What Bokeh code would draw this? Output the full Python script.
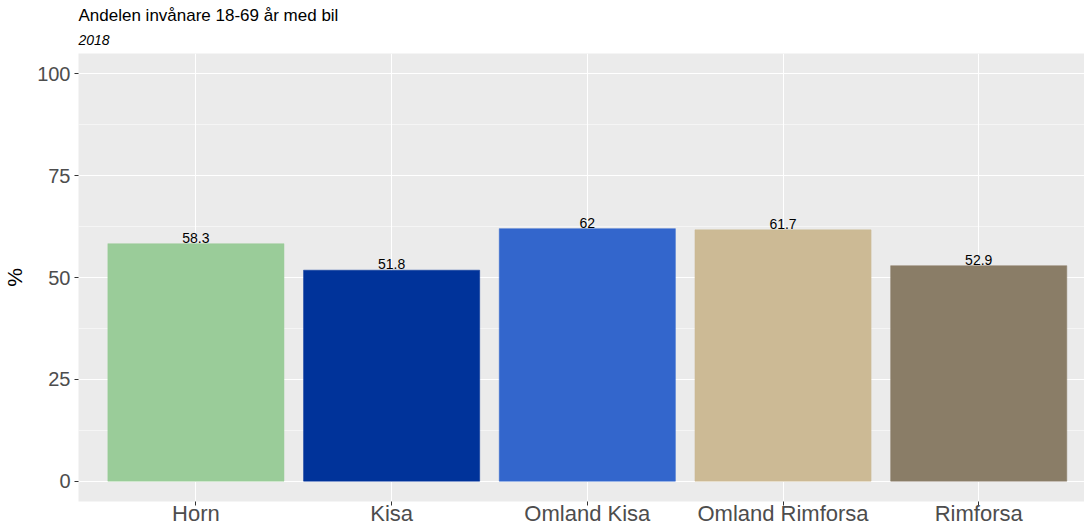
from bokeh.plotting import figure
from bokeh.models import ColumnDataSource, FixedTicker, Range1d, Title
from bokeh.embed import file_html
from bokeh.resources import INLINE

categories = ["Horn", "Kisa", "Omland Kisa", "Omland Rimforsa", "Rimforsa"]
values = [58.3, 51.8, 62, 61.7, 52.9]
labels = ["58.3", "51.8", "62", "61.7", "52.9"]
colors = ["#9ACC99", "#00339A", "#3366CC", "#CCBA95", "#8A7D67"]
y_ticks = [0, 25, 50, 75, 100]

FONT = "Liberation Sans"

x = list(range(1, len(categories) + 1))
src = ColumnDataSource(dict(x=x, top=values, label=labels, color=colors))

p = figure(frame_width=1006, frame_height=448, output_backend="svg", toolbar_location=None,
           x_range=Range1d(0.4, 0.4 + 1006 / 195.7), y_range=Range1d(-5, 105),
           min_border_left=0, min_border_right=0, min_border_top=0, min_border_bottom=0,
           background_fill_color="#EBEBEB", border_fill_color="white", outline_line_color=None)

p.add_layout(Title(text="2018", text_font_style="italic", text_font_size="14px",
                   text_font=FONT, text_color="black", offset=0, standoff=18), "above")
p.add_layout(Title(text="Andelen invånare 18-69 år med bil", text_font_style="normal",
                   text_font_size="17px", text_font=FONT, text_color="black", offset=0,
                   standoff=-2), "above")
p.add_layout(Title(text=" ", text_font_size="2px", standoff=0), "above")

p.vbar(x="x", top="top", bottom=0, width=0.9, source=src, fill_color="color",
       line_color="color", line_width=0.5)
p.text(x="x", y="top", text="label", source=src, text_align="center",
       text_baseline="bottom", y_offset=-1, text_font_size="14px",
       text_font={"value": FONT}, text_color="black")

p.xaxis.ticker = FixedTicker(ticks=x)
p.xaxis.major_label_overrides = {i: c for i, c in zip(x, categories)}
p.yaxis.ticker = FixedTicker(ticks=y_ticks, minor_ticks=[12.5, 37.5, 62.5, 87.5])
p.yaxis.axis_label = "%"

for ax in (p.xaxis, p.yaxis):
    ax.axis_line_color = None
    ax.major_tick_in = 0
    ax.major_tick_out = 4
    ax.major_tick_line_color = "#333333"
    ax.minor_tick_line_color = None
    ax.major_label_text_font = FONT
    ax.major_label_text_font_size = "20px"
    ax.major_label_text_color = "#4D4D4D"
    ax.axis_label_text_font = FONT
    ax.axis_label_text_font_style = "normal"
    ax.axis_label_text_font_size = "21px"
    ax.axis_label_text_color = "black"
p.yaxis.major_label_standoff = 4
p.yaxis.axis_label_standoff = 8
p.xaxis.major_label_text_font_size = "22px"
p.xaxis.major_label_standoff = -5

p.xgrid.grid_line_color = "white"
p.xgrid.grid_line_width = 1.1
p.ygrid.grid_line_color = "white"
p.ygrid.grid_line_width = 1.1
p.ygrid.minor_grid_line_color = "white"
p.ygrid.minor_grid_line_width = 0.5

open("out.html", "w").write(file_html(p, INLINE))
